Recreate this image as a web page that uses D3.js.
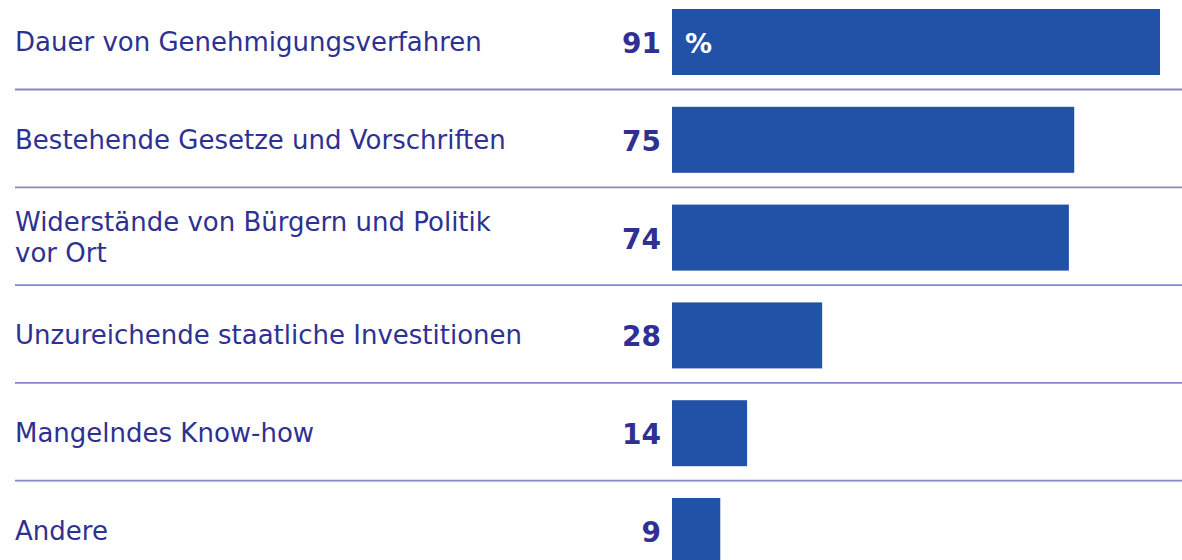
<!DOCTYPE html>
<html>
<head>
<meta charset="utf-8">
<script src="https://cdn.jsdelivr.net/npm/d3@7"></script>
<style>
  html, body { margin: 0; padding: 0; background: #ffffff; }
  svg { display: block; }
</style>
</head>
<body>
<svg id="chart"></svg>
<script>
// categories (label lines) and values in percent
var categories = [
    ["Dauer von Genehmigungsverfahren"],
    ["Bestehende Gesetze und Vorschriften"],
    ["Widerstände von Bürgern und Politik", "vor Ort"],
    ["Unzureichende staatliche Investitionen"],
    ["Mangelndes Know-how"],
    ["Andere"]
];
var values = [91, 75, 74, 28, 14, 9];
var unitLabel = "%";

var width = 1182, height = 560;
var barColor = "#2251a8";
var textColor = "#2e3192";
var ruleColor = "#8587c8";

var svg = d3.select("#chart")
    .attr("width", width)
    .attr("height", height);

var rows = categories.map(function (c, i) {
    return { id: i, lines: c, value: values[i] };
});

// row bands
var yScale = d3.scaleBand()
    .domain(rows.map(function (d) { return d.id; }))
    .range([-7, -7 + 97.8 * rows.length])
    .paddingInner(0)
    .paddingOuter(0);

var barTop = 16;      // inset of bar inside band
var barHeight = 66;

var xScale = d3.scaleLinear()
    .domain([0, 100])
    .range([672, 672 + 536.3]);

// separator rules
svg.selectAll("line.rule")
    .data(rows.slice(0, rows.length - 1))
    .enter()
    .append("line")
    .attr("class", "rule")
    .attr("x1", 15)
    .attr("x2", width)
    .attr("y1", function (d) { return yScale(d.id) + barTop + barHeight + 14.5; })
    .attr("y2", function (d) { return yScale(d.id) + barTop + barHeight + 14.5; })
    .attr("stroke", ruleColor)
    .attr("stroke-width", 1.8);

// bars
svg.selectAll("rect.bar")
    .data(rows)
    .enter()
    .append("rect")
    .attr("class", "bar")
    .attr("x", xScale(0))
    .attr("y", function (d) { return yScale(d.id) + barTop; })
    .attr("width", function (d) { return xScale(d.value) - xScale(0); })
    .attr("height", barHeight)
    .attr("fill", barColor);

// category labels
var labels = svg.selectAll("text.label")
    .data(rows)
    .enter()
    .append("text")
    .attr("class", "label")
    .attr("font-family", "'DejaVu Sans', sans-serif")
    .attr("font-size", 26)
    .attr("fill", textColor);

labels.each(function (d) {
    var center = yScale(d.id) + barTop + barHeight / 2;
    var n = d.lines.length;
    d3.select(this).selectAll("tspan")
        .data(d.lines)
        .enter()
        .append("tspan")
        .attr("x", 15)
        .attr("y", function (t, i) { return center + 9 + (i - (n - 1) / 2) * 31; })
        .text(function (t) { return t; });
});

// value numbers
svg.selectAll("text.value")
    .data(rows)
    .enter()
    .append("text")
    .attr("class", "value")
    .attr("x", 661)
    .attr("y", function (d) { return yScale(d.id) + barTop + barHeight / 2 + 11; })
    .attr("text-anchor", "end")
    .attr("font-family", "'DejaVu Sans', sans-serif")
    .attr("font-weight", "bold")
    .attr("font-size", 28)
    .attr("fill", textColor)
    .text(function (d) { return d.value; });

// percent sign in first bar
svg.append("text")
    .attr("x", xScale(0) + 13)
    .attr("y", yScale(rows[0].id) + barTop + barHeight / 2 + 11)
    .attr("font-family", "'DejaVu Sans', sans-serif")
    .attr("font-weight", "bold")
    .attr("font-size", 27)
    .attr("fill", "#ffffff")
    .text(unitLabel);
</script>
</body>
</html>
